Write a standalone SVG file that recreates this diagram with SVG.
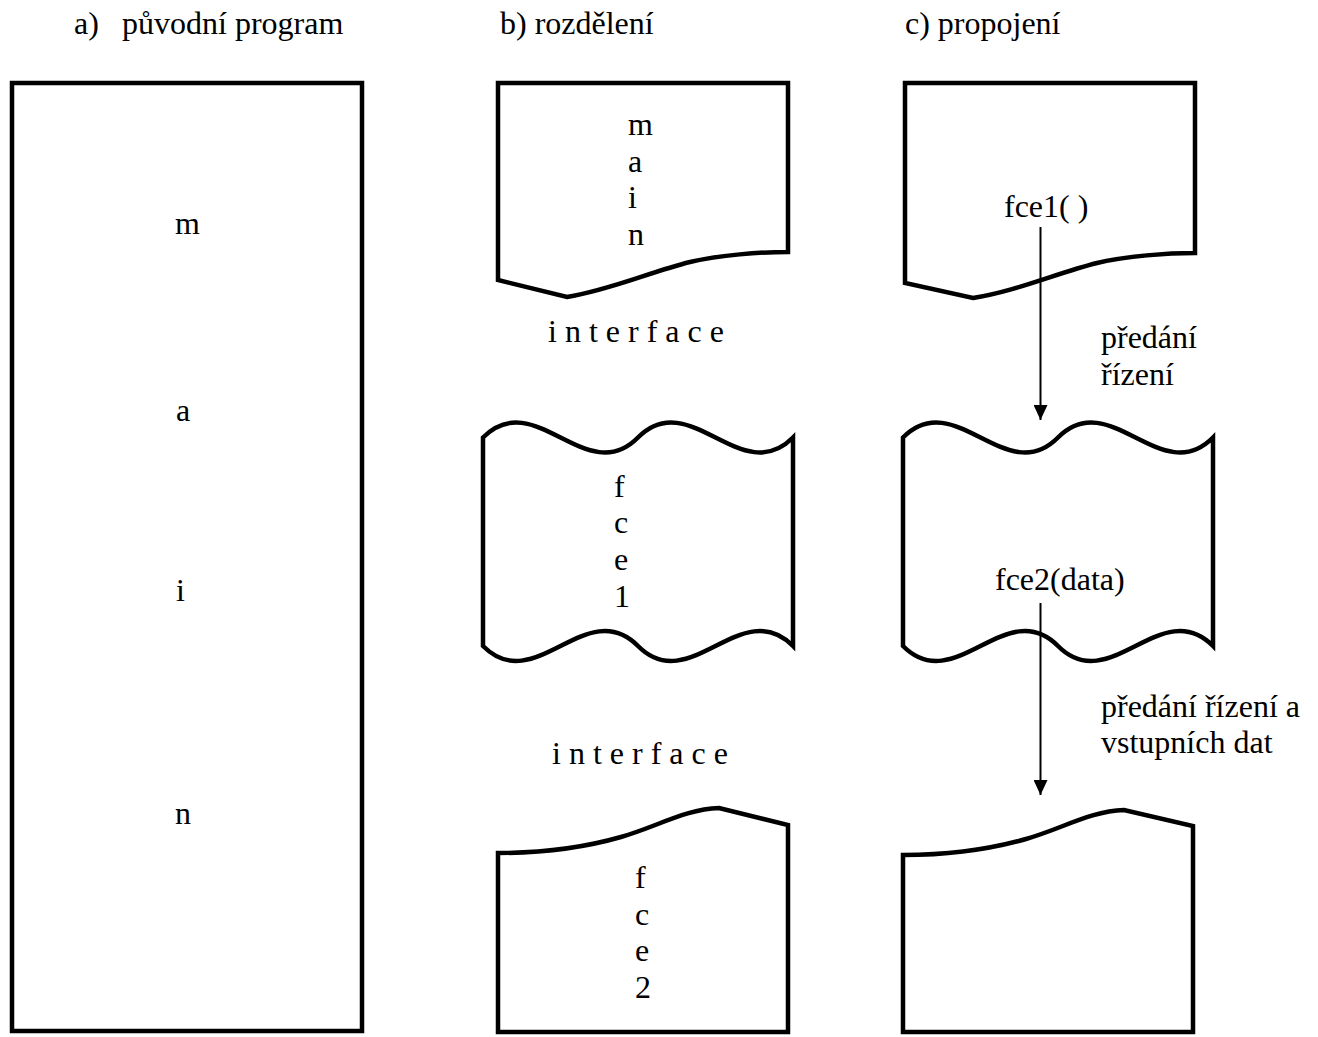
<svg xmlns="http://www.w3.org/2000/svg" width="1318" height="1037" viewBox="0 0 1318 1037">
<defs>
<style>
.shape{fill:#fff;stroke:#000;stroke-width:4.5;stroke-linejoin:miter}
.t{font-family:"Liberation Serif","Times New Roman",serif;font-size:32px;fill:#000}
.conn{stroke:#000;stroke-width:2;fill:none}
</style>
<marker id="ah" markerUnits="userSpaceOnUse" markerWidth="16" markerHeight="14" refX="15" refY="7" orient="auto">
<path d="M0,0 L15,7 L0,14 Z" fill="#000"/>
</marker>
</defs>
<rect width="1318" height="1037" fill="#fff"/>
<g id="headers">
<text class="t" x="74" y="34">a)</text>
<text class="t" x="122" y="34">původní program</text>
<text class="t" x="500" y="34">b) rozdělení</text>
<text class="t" x="905" y="34">c) propojení</text>
</g>
<g id="original">
<rect class="shape" x="12" y="83" width="350" height="948"/>
<text class="t" x="175" y="234">m</text>
<text class="t" x="176" y="421">a</text>
<text class="t" x="176" y="601">i</text>
<text class="t" x="175" y="824">n</text>
</g>
<g id="b-main">
<path class="shape" d="M498,83 H788 V252 C760,252 720,255 690,262 C650,272 610,290 567,297 L498,280 Z"/>
<text class="t" x="628" y="135">m</text>
<text class="t" x="628" y="172">a</text>
<text class="t" x="628" y="208">i</text>
<text class="t" x="628" y="245">n</text>
</g>
<g id="b-interface1">
<text class="t" x="548" y="342">i n t e r f a c e</text>
</g>
<g id="b-fce1">
<path class="shape" d="M483,437.5 C534.7,385.5 586.3,489.5 638,437.5 C689.7,385.5 741.3,489.5 793,437.5 L793,646 C741.3,594 689.7,698 638,646 C586.3,594 534.7,698 483,646 Z"/>
<text class="t" x="614" y="497">f</text>
<text class="t" x="614" y="533">c</text>
<text class="t" x="614" y="570">e</text>
<text class="t" x="614" y="607">1</text>
</g>
<g id="b-interface2">
<text class="t" x="552" y="764">i n t e r f a c e</text>
</g>
<g id="b-fce2">
<path class="shape" d="M498,1032 V853 C546,853 586,847 621,837 C656,827 686,809 719,808 L788,825 V1032 Z"/>
<text class="t" x="635" y="888">f</text>
<text class="t" x="635" y="925">c</text>
<text class="t" x="635" y="961">e</text>
<text class="t" x="635" y="998">2</text>
</g>
<g id="c-main">
<path class="shape" d="M905,83 H1195 V253 C1167,253 1127,256 1097,263 C1057,273 1017,291 973,298 L905,283 Z"/>
<text class="t" x="1004" y="217">fce1( )</text>
</g>
<g id="c-fce1">
<path class="shape" d="M903,437.5 C954.7,385.5 1006.3,489.5 1058,437.5 C1109.7,385.5 1161.3,489.5 1213,437.5 L1213,646 C1161.3,594 1109.7,698 1058,646 C1006.3,594 954.7,698 903,646 Z"/>
<text class="t" x="995" y="590">fce2(data)</text>
</g>
<g id="c-fce2">
<path class="shape" d="M903,1032 V855 C951,855 991,849 1026,839 C1061,829 1091,811 1124,810 L1193,826 V1032 Z"/>
</g>
<g id="connectors">
<line class="conn" x1="1040.5" y1="227" x2="1040.5" y2="420" marker-end="url(#ah)"/>
<line class="conn" x1="1040.5" y1="603" x2="1040.5" y2="795" marker-end="url(#ah)"/>
</g>
<g id="labels">
<text class="t" x="1101" y="348">předání</text>
<text class="t" x="1101" y="385">řízení</text>
<text class="t" x="1101" y="717">předání řízení a</text>
<text class="t" x="1101" y="753">vstupních dat</text>
</g>
</svg>
